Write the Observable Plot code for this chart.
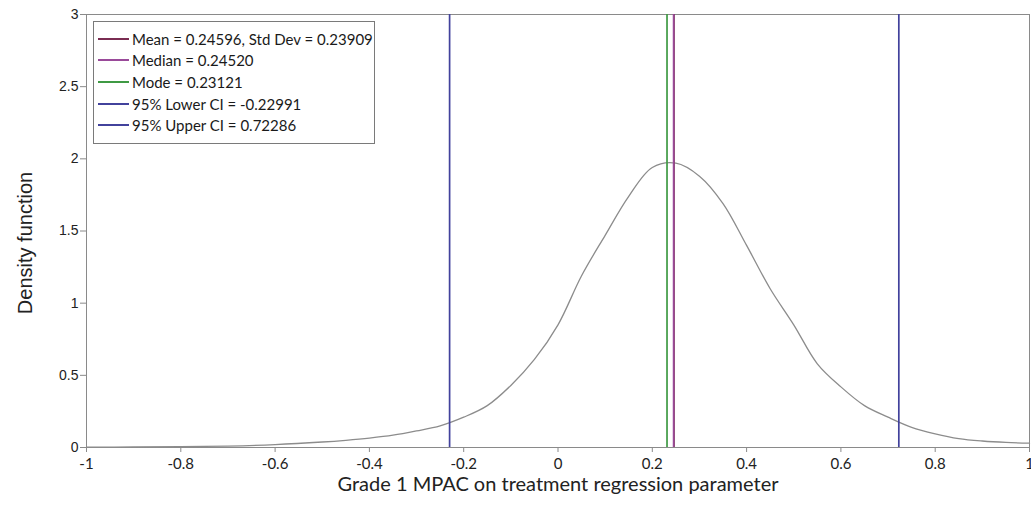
<!DOCTYPE html>
<html><head><meta charset="utf-8">
<script src="https://cdn.jsdelivr.net/npm/d3@7"></script>
<script src="https://cdn.jsdelivr.net/npm/@observablehq/plot@0.6"></script>
<style>
body{margin:0;background:#fff;}
#wrap{position:relative;width:1031px;height:511px;overflow:hidden;}
#legend{position:absolute;left:93px;top:21px;width:282px;height:123px;border:1px solid #7a7a7a;background:#fff;box-sizing:border-box;font-family:Lato,sans-serif;font-size:15px;color:#1a1a1a;padding-top:6px}
.row{display:flex;align-items:center;height:21.6px;white-space:nowrap}
.sw{width:31px;height:2px;margin-left:4px;margin-right:3px;flex:none}
</style></head>
<body><div id="wrap"></div>
<script>
// density curve
const xVals = [-1, -0.9, -0.8, -0.7, -0.6, -0.5, -0.45, -0.4, -0.35, -0.3, -0.25, -0.2, -0.15, -0.1, -0.05, 0, 0.05, 0.1, 0.15, 0.2, 0.25, 0.3, 0.35, 0.4, 0.45, 0.5, 0.55, 0.6, 0.65, 0.7, 0.75, 0.8, 0.85, 0.9, 0.95, 1.0];
const density = [0.002, 0.004, 0.006, 0.010, 0.02, 0.038, 0.05, 0.065, 0.085, 0.115, 0.15, 0.21, 0.29, 0.43, 0.61, 0.85, 1.19, 1.47, 1.74, 1.94, 1.97, 1.88, 1.69, 1.40, 1.10, 0.85, 0.58, 0.42, 0.29, 0.21, 0.14, 0.095, 0.062, 0.045, 0.035, 0.03];

// summary statistics (vertical lines + legend)
const statLabels = ["Mean = 0.24596, Std Dev = 0.23909", "Median = 0.24520", "Mode = 0.23121", "95% Lower CI = -0.22991", "95% Upper CI = 0.72286"];
const statValues = [0.24596, 0.24520, 0.23121, -0.22991, 0.72286];
const statColors = ["#7a2c52", "#9a4a9a", "#3f9a44", "#42429c", "#42429c"];

const xTicks = [-1, -0.8, -0.6, -0.4, -0.2, 0, 0.2, 0.4, 0.6, 0.8, 1];
const yTicks = [0, 0.5, 1, 1.5, 2, 2.5, 3];
const xLabel = "Grade 1 MPAC on treatment regression parameter";
const yLabel = "Density function";

const curve = xVals.map((x, i) => ({x, y: density[i]}));
const stats = statValues.map((v, i) => ({v, label: statLabels[i], color: statColors[i]}));
const drawOrder = [4, 3, 2, 0, 1].map(i => stats[i]);

const chart = Plot.plot({
  width: 1031,
  height: 511,
  marginLeft: 86,
  marginRight: 2,
  marginTop: 14,
  marginBottom: 64,
  style: {background: "#fff", color: "#222"},
  x: {domain: [-1, 1]},
  y: {domain: [0, 3]},
  marks: [
    Plot.frame({stroke: "#8a8a8a"}),
    Plot.line(curve, {x: "x", y: "y", stroke: "#8c8c8c", strokeWidth: 1.3, curve: "catmull-rom"}),
    Plot.ruleX(drawOrder, {x: "v", stroke: "color", strokeWidth: 1.7}),
    Plot.axisX({ticks: xTicks, tickSize: 5, tickPadding: 6, tickFormat: d => String(d), fontSize: 15, fontFamily: "Lato", stroke: "#8a8a8a", label: null}),
    Plot.axisX({ticks: [], label: xLabel, labelAnchor: "center", labelArrow: "none", labelOffset: 43, fontSize: 20, fontFamily: "Lato"}),
    Plot.axisY({ticks: yTicks, tickSize: 6, tickPadding: 2, tickFormat: d => String(d), fontSize: 14, fontFamily: "Liberation Sans", stroke: "#8a8a8a", label: null}),
    Plot.text([yLabel], {text: d => d, frameAnchor: "left", textAnchor: "middle", rotate: -90, dx: -61, dy: 12, fontSize: 20, fontFamily: "Liberation Sans", fill: "#222"})
  ]
});
const wrap = document.getElementById("wrap");
wrap.appendChild(chart);

const legend = document.createElement("div");
legend.id = "legend";
for (const s of stats) {
  const row = document.createElement("div");
  row.className = "row";
  const sw = document.createElement("span");
  sw.className = "sw";
  sw.style.background = s.color;
  const t = document.createElement("span");
  t.textContent = s.label;
  row.appendChild(sw);
  row.appendChild(t);
  legend.appendChild(row);
}
wrap.appendChild(legend);
</script>
</body></html>
